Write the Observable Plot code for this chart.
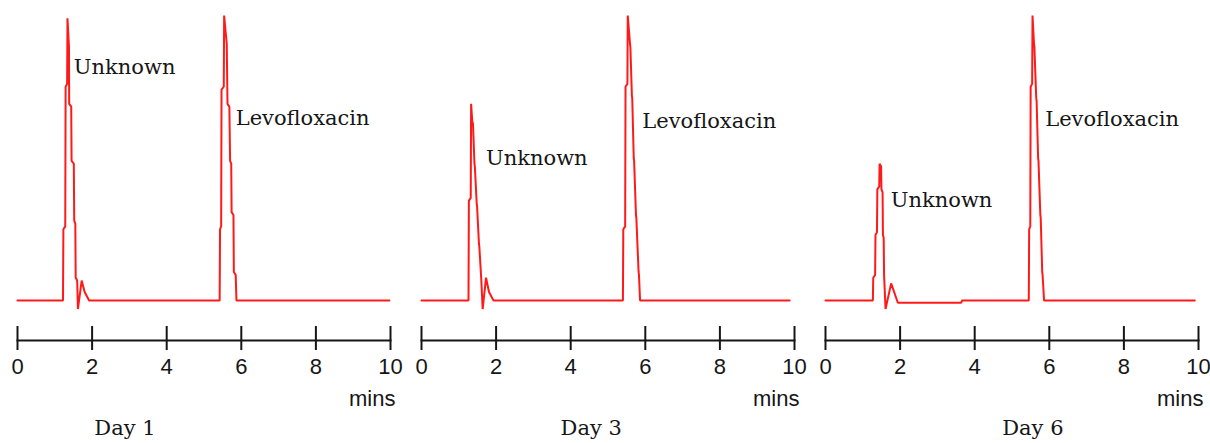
<!DOCTYPE html>
<html><head><meta charset="utf-8">
<script src="https://cdn.jsdelivr.net/npm/d3@7"></script>
<script src="https://cdn.jsdelivr.net/npm/@observablehq/plot@0.6"></script>
<style>html,body{margin:0;padding:0;background:#fff;}</style>
</head><body><div id="chart"></div>
<script>
// ---- data ----
const days = ["Day 1", "Day 3", "Day 6"];
const tickValues = [0, 2, 4, 6, 8, 10];
const unitLabel = "mins";

// retention time (min) and detector signal (relative, Levofloxacin peak = 100)
const day1Time = [0, 1.22, 1.23, 1.28, 1.29, 1.33, 1.34, 1.38, 1.385, 1.44, 1.45, 1.51, 1.52, 1.55, 1.56, 1.60, 1.62, 1.72, 1.80, 1.92, 5.42, 5.43, 5.46, 5.47, 5.53, 5.54, 5.61, 5.63, 5.68, 5.70, 5.73, 5.74, 5.79, 5.80, 5.85, 5.87, 9.97];
const day1Signal = [0, 0, 25, 26, 75, 76, 99, 89, 69, 68, 49, 48, 28, 27, 8, 7, -3, 7, 3, 0, 0, 25, 26, 74, 75, 100, 90, 69, 68, 49, 48, 31, 30, 10, 9, 0, 0];

const day3Time = [0, 1.26, 1.27, 1.32, 1.33, 1.36, 1.38, 1.42, 1.43, 1.48, 1.49, 1.54, 1.55, 1.60, 1.64, 1.73, 1.81, 1.93, 5.40, 5.41, 5.46, 5.47, 5.52, 5.53, 5.59, 5.60, 5.64, 5.65, 5.69, 5.70, 5.75, 5.76, 5.82, 5.83, 5.86, 9.87];
const day3Signal = [0, 0, 35, 36, 69, 63, 62, 48, 47, 34, 33, 20, 19, 8, -3, 8, 3, 0, 0, 25, 26, 75, 76, 100, 90, 89, 72, 71, 50, 49, 30, 29, 10, 9, 0, 0];

const day6Time = [0, 1.27, 1.28, 1.33, 1.34, 1.38, 1.39, 1.44, 1.45, 1.49, 1.50, 1.53, 1.54, 1.56, 1.57, 1.61, 1.76, 1.94, 3.64, 3.66, 5.45, 5.46, 5.49, 5.50, 5.54, 5.55, 5.59, 5.60, 5.65, 5.66, 5.70, 5.71, 5.76, 5.77, 5.81, 5.82, 5.86, 9.9];
const day6Signal = [0, 0, 8, 9, 23, 24, 39, 40, 48, 47, 39, 38, 23, 22, 9, -3, 6, -0.8, -0.8, 0, 0, 25, 26, 75, 76, 100, 90, 89, 71, 70, 50, 49, 30, 29, 10, 9, 0, 0];

// peak labels: name, and the (time, signal) they are written at in each panel
const peakNames = ["Unknown", "Levofloxacin"];
const labelTimes = [[1.51, 5.85], [1.73, 5.92], [1.75, 5.89]];
const labelSignals = [[82, 64], [50, 63], [35, 63.5]];

// where each panel's day caption sits along the time axis
const dayLabelTimes = [2.88, 4.55, 5.56];

// ---- tables built from the arrays ----
const traceTimes = [day1Time, day3Time, day6Time];
const traceSignals = [day1Signal, day3Signal, day6Signal];
const traceRows = days.flatMap((day, i) => traceTimes[i].map((t, j) => ({day, t, v: traceSignals[i][j]})));
const labelRows = days.flatMap((day, i) => peakNames.map((name, k) => ({day, name, t: labelTimes[i][k], v: labelSignals[i][k]})));
const dayRows = days.map((day, i) => ({day, t: dayLabelTimes[i]}));
const unitRows = days.map(day => ({day, t: 10}));

const ink = "#161616";
const serif = "DejaVu Serif";

const chart = Plot.plot({
  width: 1210,
  height: 443,
  marginLeft: 17,
  marginRight: 12,
  marginTop: 15,
  marginBottom: 103,
  style: {fontFamily: "Liberation Sans, Arial, sans-serif", fontSize: "22px", background: "#fff", color: ink},
  fx: {domain: days, paddingInner: 0.077, paddingOuter: 0, axis: null, label: null},
  x: {domain: [0, 10], label: null},
  y: {domain: [0, 100], insetBottom: 40, axis: null, label: null},
  marks: [
    Plot.frame({anchor: "bottom", stroke: ink, strokeWidth: 2}),
    Plot.axisX({ticks: tickValues, tickFormat: d => String(d), tickSize: 24, dy: -14, tickPadding: 8,
                stroke: ink, fill: ink, strokeWidth: 2, label: null}),
    Plot.line(traceRows, {x: "t", y: "v", fx: "day", stroke: "#ff1a1a", strokeWidth: 2, strokeLinejoin: "miter"}),
    Plot.text(labelRows, {x: "t", y: "v", fx: "day", text: "name", textAnchor: "start", lineAnchor: "middle",
                          fontFamily: serif, fontSize: 21, fill: ink}),
    Plot.text(unitRows, {x: "t", fx: "day", text: () => unitLabel, frameAnchor: "bottom", textAnchor: "end",
                         lineAnchor: "middle", dx: 5, dy: 58, fill: ink}),
    Plot.text(dayRows, {x: "t", fx: "day", text: "day", frameAnchor: "bottom", textAnchor: "middle",
                        lineAnchor: "middle", dy: 88, fontFamily: serif, fontSize: 21, fill: ink})
  ]
});
document.getElementById("chart").appendChild(chart);
</script>
</body></html>
